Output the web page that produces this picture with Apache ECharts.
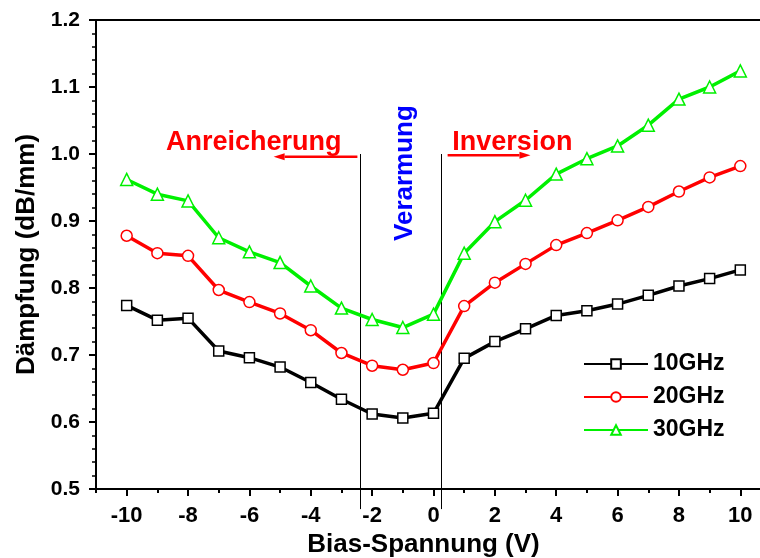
<!DOCTYPE html>
<html>
<head>
<meta charset="utf-8">
<script src="https://cdn.jsdelivr.net/npm/echarts@6/dist/echarts.min.js"></script>
<style>
  html, body { margin: 0; padding: 0; background: #fff; }
  #chart { width: 760px; height: 558px; }
</style>
</head>
<body>
<div id="chart"></div>
<script>
// Bias voltage steps (V)
const biasVoltage = [-10, -9, -8, -7, -6, -5, -4, -3, -2, -1, 0, 1, 2, 3, 4, 5, 6, 7, 8, 9, 10];

// Attenuation (dB/mm) per frequency
const loss10GHz = [0.774, 0.752, 0.755, 0.706, 0.696, 0.682, 0.659, 0.634, 0.612, 0.606, 0.613,
                   0.695, 0.720, 0.739, 0.759, 0.766, 0.776, 0.789, 0.803, 0.814, 0.827];
const loss20GHz = [0.878, 0.852, 0.848, 0.797, 0.779, 0.762, 0.737, 0.703, 0.684, 0.678, 0.688,
                   0.773, 0.808, 0.836, 0.864, 0.882, 0.901, 0.921, 0.944, 0.965, 0.982];
const loss30GHz = [0.962, 0.940, 0.930, 0.875, 0.854, 0.838, 0.803, 0.770, 0.753, 0.741, 0.761,
                   0.852, 0.899, 0.931, 0.970, 0.993, 1.012, 1.043, 1.082, 1.100, 1.124];

const seriesNames = ['10GHz', '20GHz', '30GHz'];

// Axis tick values
const xMajorTicks = [-10, -8, -6, -4, -2, 0, 2, 4, 6, 8, 10];
const xMinorTicks = [-11, -9, -7, -5, -3, -1, 1, 3, 5, 7, 9, 11];

// Region boundaries (V) separating accumulation / depletion / inversion
const regionBounds = [-2.38, 0.25];

const FONT = '"Liberation Sans", Arial, Helvetica, sans-serif';

const chart = echarts.init(document.getElementById('chart'), null, { renderer: 'canvas' });

function pairs(ys) {
  return biasVoltage.map((x, i) => [x, ys[i]]);
}

const styles = [
  { color: '#000000', symbol: 'rect', size: 10 },
  { color: '#ff0000', symbol: 'circle', size: 11 },
  { color: '#00f000', symbol: 'triangle', size: 12 }
];

const dataSets = [loss10GHz, loss20GHz, loss30GHz];

const series = dataSets.map((ys, i) => ({
  name: seriesNames[i],
  type: 'line',
  xAxisIndex: 0,
  data: pairs(ys),
  symbol: styles[i].symbol,
  symbolSize: styles[i].size,
  showAllSymbol: true,
  lineStyle: { color: styles[i].color, width: 3.5 },
  itemStyle: { color: '#ffffff', borderColor: styles[i].color, borderWidth: 1.5 },
  emphasis: { disabled: true },
  animation: false
}));

chart.setOption({
  animation: false,
  grid: {
    left: 96, top: 20, width: 675, bottom: 69,
    outerBoundsMode: 'none', containLabel: false,
    show: true, borderColor: '#000', borderWidth: 2, backgroundColor: 'transparent'
  },
  legend: {
    orient: 'vertical',
    left: 583, top: 352, padding: 0,
    itemWidth: 64, itemHeight: 12, itemGap: 9,
    data: seriesNames,
    textStyle: { fontFamily: FONT, fontWeight: 'bold', fontSize: 23, color: '#000', lineHeight: 24, padding: [0, 0, 0, 0] },
    selectedMode: false
  },
  xAxis: [
    {
      type: 'value', min: -11, max: 11,
      name: 'Bias-Spannung (V)', nameLocation: 'middle', nameGap: 42,
      nameTextStyle: { fontFamily: FONT, fontWeight: 'bold', fontSize: 26, color: '#000', padding: [0, 20, 0, 0] },
      axisLine: { show: true, onZero: false, lineStyle: { color: '#000', width: 2 } },
      axisTick: { show: true, inside: false, length: 7, customValues: xMajorTicks, lineStyle: { color: '#000', width: 2 } },
      axisLabel: { show: true, margin: 16, customValues: xMajorTicks, fontFamily: FONT, fontWeight: 'bold', fontSize: 22, color: '#000' },
      splitLine: { show: false }
    },
    {
      type: 'value', min: -11, max: 11, position: 'bottom',
      axisLine: { show: false, onZero: false },
      axisTick: { show: true, inside: false, length: 4, customValues: xMinorTicks, lineStyle: { color: '#000', width: 2 } },
      axisLabel: { show: false },
      splitLine: { show: false }
    }
  ],
  yAxis: {
    type: 'value', min: 0.5, max: 1.2, interval: 0.1,
    name: 'Dämpfung (dB/mm)', nameLocation: 'middle', nameGap: 40,
    nameTextStyle: { fontFamily: FONT, fontWeight: 'bold', fontSize: 26, color: '#000' },
    axisLine: { show: true, onZero: false, lineStyle: { color: '#000', width: 2 } },
    axisTick: { show: true, inside: false, length: 7, lineStyle: { color: '#000', width: 2 } },
    minorTick: { show: true, splitNumber: 5, length: 4, lineStyle: { color: '#000', width: 1.5 } },
    axisLabel: {
      margin: 16, fontFamily: FONT, fontWeight: 'bold', fontSize: 21, color: '#000',
      formatter: v => v.toFixed(1)
    },
    splitLine: { show: false },
    minorSplitLine: { show: false }
  },
  series: series
});

// Region separators, arrows and region labels, anchored in data coordinates
function px(x, y) { return chart.convertToPixel({ gridIndex: 0 }, [x, y]); }

function arrow(x0, x1, y, color) {
  const a = px(x0, y), b = px(x1, y);
  const dir = Math.sign(b[0] - a[0]);
  const headLen = 11, headHalf = 3.5;
  return [
    { type: 'line', silent: true, shape: { x1: a[0], y1: a[1], x2: b[0] - dir * headLen, y2: b[1] },
      style: { stroke: color, lineWidth: 2.5 } },
    { type: 'polygon', silent: true,
      shape: { points: [[b[0], b[1]], [b[0] - dir * headLen, b[1] - headHalf], [b[0] - dir * headLen, b[1] + headHalf]] },
      style: { fill: color } }
  ];
}

const graphics = [];
regionBounds.forEach(v => {
  const top = px(v, 1.0), bottom = px(v, 0.47);
  graphics.push({ type: 'line', silent: true,
    shape: { x1: Math.round(top[0]) + 0.5, y1: top[1], x2: Math.round(bottom[0]) + 0.5, y2: bottom[1] },
    style: { stroke: '#000', lineWidth: 1 } });
});
graphics.push(...arrow(-2.48, -5.21, 0.996, '#ff0000'));
graphics.push(...arrow(0.46, 3.16, 0.998, '#ff0000'));

const pA = px(-5.86, 1.0164);
graphics.push({ type: 'text', silent: true, x: pA[0], y: pA[1],
  style: { text: 'Anreicherung', fill: '#ff0000', font: 'bold 27px ' + FONT, align: 'center', verticalAlign: 'middle' } });
const pI = px(2.57, 1.0164);
graphics.push({ type: 'text', silent: true, x: pI[0], y: pI[1],
  style: { text: 'Inversion', fill: '#ff0000', font: 'bold 27px ' + FONT, align: 'center', verticalAlign: 'middle' } });
const pV = px(-0.94, 0.9716);
graphics.push({ type: 'text', silent: true, x: pV[0], y: pV[1], rotation: Math.PI / 2,
  style: { text: 'Verarmung', fill: '#0000ff', font: 'bold 26px ' + FONT, align: 'center', verticalAlign: 'middle' } });

chart.setOption({ graphic: graphics });
</script>
</body>
</html>
